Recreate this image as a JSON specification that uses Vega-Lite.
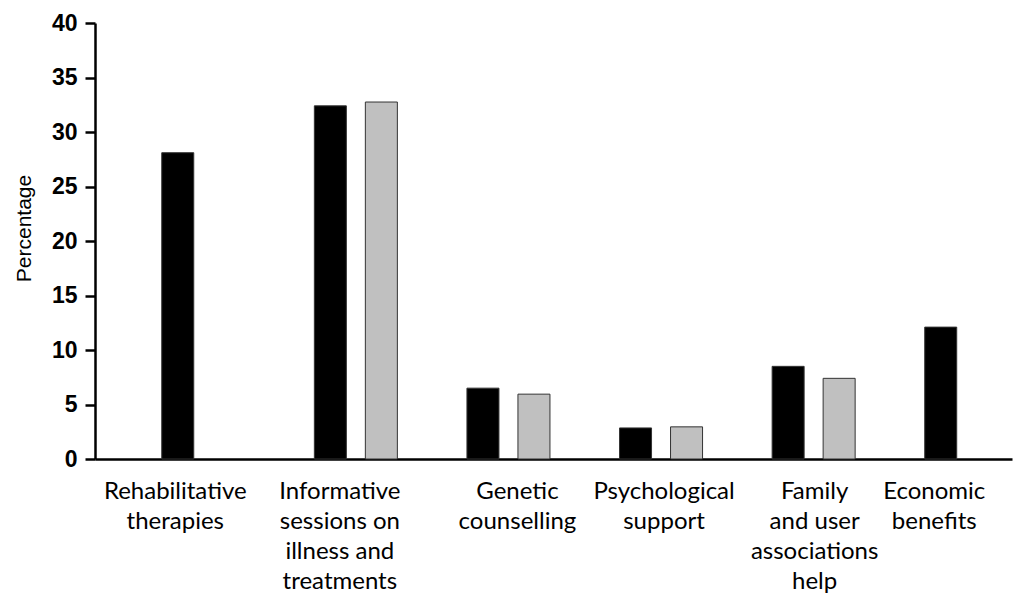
{
  "$schema": "https://vega.github.io/schema/vega-lite/v6.json",
  "width": 917,
  "height": 436,
  "autosize": {"type": "none"},
  "padding": {"left": 95, "top": 23, "right": 1, "bottom": 136},
  "background": "white",
  "data": {
    "values": [
      {"category": "Rehabilitative therapies", "series": "Series 1", "percentage": 28.1},
      {"category": "Informative sessions on illness and treatments", "series": "Series 1", "percentage": 32.4},
      {"category": "Informative sessions on illness and treatments", "series": "Series 2", "percentage": 32.75},
      {"category": "Genetic counselling", "series": "Series 1", "percentage": 6.5},
      {"category": "Genetic counselling", "series": "Series 2", "percentage": 5.95},
      {"category": "Psychological support", "series": "Series 1", "percentage": 2.85},
      {"category": "Psychological support", "series": "Series 2", "percentage": 2.95},
      {"category": "Family and user associations help", "series": "Series 1", "percentage": 8.5},
      {"category": "Family and user associations help", "series": "Series 2", "percentage": 7.4},
      {"category": "Economic benefits", "series": "Series 1", "percentage": 12.1}
    ]
  },
  "mark": {"type": "bar", "stroke": "#333333", "strokeWidth": 1},
  "encoding": {
    "x": {
      "field": "category",
      "type": "nominal",
      "sort": null,
      "scale": {"paddingInner": 0.456, "paddingOuter": 0.2327, "align": 0.94},
      "axis": {
        "title": null,
        "labelAngle": 0,
        "ticks": false,
        "domainColor": "#000000",
        "domainWidth": 2.5,
        "labelFont": "Lato",
        "labelFontSize": 24,
        "labelColor": "#000000",
        "labelBaseline": "top",
        "labelPadding": 20,
        "labelLineHeight": 30,
        "labelLimit": 0,
        "labelOffset": {"expr": "datum.value == 'Rehabilitative therapies' ? -28 : datum.value == 'Informative sessions on illness and treatments' ? -16 : datum.value == 'Genetic counselling' ? 9 : datum.value == 'Psychological support' ? 3 : datum.value == 'Family and user associations help' ? 1 : -32"},
        "labelExpr": "datum.value == 'Rehabilitative therapies' ? ['Rehabilitative', 'therapies'] : datum.value == 'Informative sessions on illness and treatments' ? ['Informative', 'sessions on', 'illness and', 'treatments'] : datum.value == 'Genetic counselling' ? ['Genetic', 'counselling'] : datum.value == 'Psychological support' ? ['Psychological', 'support'] : datum.value == 'Family and user associations help' ? ['Family', 'and user', 'associations', 'help'] : ['Economic', 'benefits']"
      }
    },
    "xOffset": {
      "field": "series",
      "type": "nominal",
      "scale": {"domain": ["Series 1", "Series 2"], "paddingInner": 0.3725, "paddingOuter": 0}
    },
    "y": {
      "field": "percentage",
      "type": "quantitative",
      "scale": {"domain": [0, 40]},
      "axis": {
        "title": "Percentage",
        "titleFont": "Liberation Sans",
        "titleFontSize": 21,
        "titleFontWeight": "normal",
        "titleColor": "#000000",
        "titlePadding": 17,
        "titleY": 205,
        "values": [0, 5, 10, 15, 20, 25, 30, 35, 40],
        "grid": false,
        "domainColor": "#000000",
        "domainWidth": 2.5,
        "tickColor": "#000000",
        "tickWidth": 2.5,
        "tickSize": 10,
        "labelFont": "Liberation Sans",
        "labelFontWeight": "bold",
        "labelFontSize": 23,
        "labelColor": "#000000",
        "labelPadding": 8
      }
    },
    "color": {
      "field": "series",
      "type": "nominal",
      "scale": {"domain": ["Series 1", "Series 2"], "range": ["#000000", "#c0c0c0"]},
      "legend": null
    }
  },
  "config": {"view": {"stroke": null}}
}
